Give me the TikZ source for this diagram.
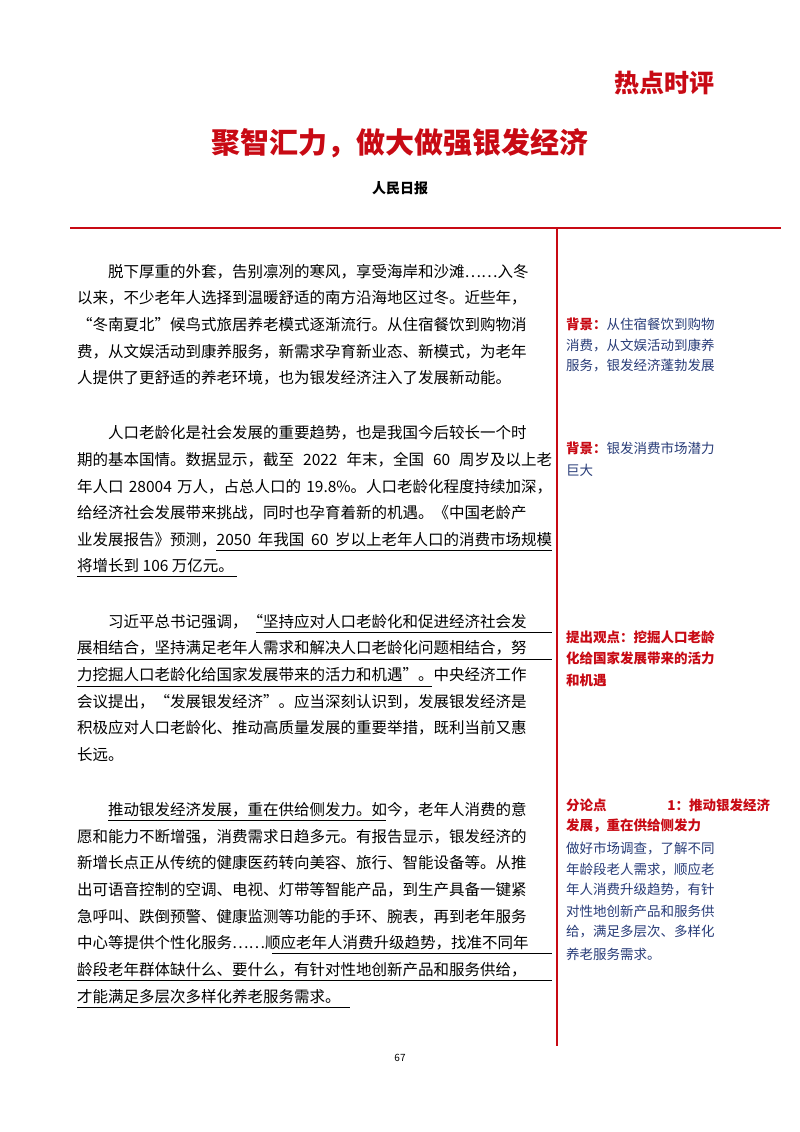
\documentclass[tikz,border=0pt]{standalone}
\usepackage{fontspec}
\setmainfont{Noto Sans CJK SC}
\definecolor{dred}{RGB}{200,10,20}
\definecolor{nblue}{RGB}{40,60,120}
\XeTeXlinebreaklocale "zh"
\newcommand\skipmain{\XeTeXlinebreakskip=3.5pt plus 4pt\relax}
\newcommand\skipside{\XeTeXlinebreakskip=4.5pt plus 4pt\relax}
\newcommand\skiphot{\XeTeXlinebreakskip=4pt\relax}
\newcommand\jl[5]{\node[mainl] (#1) at (#2,#3) {\makebox[#4pt][s]{#5}};}
\newcommand\nl[4]{\node[mainl] (#1) at (#2,#3) {#4};}
\newcommand\sj[4]{\node[sidel] (#1) at (566,#2) {\makebox[204pt][s]{\color{#3}#4}};}
\begin{document}
\begin{tikzpicture}[x=1pt,y=-1pt,
 mainl/.style={anchor=west,inner sep=0pt,font=\fontsize{15.5}{18}\selectfont\skipmain},
 sidel/.style={anchor=west,inner sep=0pt,font=\fontsize{13.5}{16}\selectfont\skipside},
 sideb/.style={sidel,font=\fontsize{13.5}{16}\selectfont\skipside\bfseries},
 rline/.style={draw=dred,line width=2.5pt},
 ul/.style={line width=0.7pt}]
\fill[white] (0,0) rectangle (800,1132);
\node[font=\bfseries\fontsize{25}{28}\selectfont\skiphot,text=dred] (hot) at (664,83) {热点时评};
\node[font=\bfseries\fontsize{29}{32}\selectfont,text=dred] (title) at (400,143) {聚智汇力，做大做强银发经济};
\node[font=\bfseries\fontsize{14}{16}\selectfont] (src) at (400,188) {人民日报};
\coordinate (h1) at (70,228); \coordinate (h2) at (781,228);
\coordinate (v1) at (557,228); \coordinate (v2) at (557,1046);
\draw[rline] (h1) -- (h2);
\draw[rline] (v1) -- (v2);
% para 1
\jl{a1}{108}{272}{444}{脱下厚重的外套，告别凛冽的寒风，享受海岸和沙滩……入冬}
\jl{a2}{77}{298}{475}{以来，不少老年人选择到温暖舒适的南方沿海地区过冬。近些年，}
\jl{a3}{77}{325}{475}{“冬南夏北”候鸟式旅居养老模式逐渐流行。从住宿餐饮到购物消}
\jl{a4}{77}{352}{475}{费，从文娱活动到康养服务，新需求孕育新业态、新模式，为老年}
\nl{a5}{77}{378}{人提供了更舒适的养老环境，也为银发经济注入了发展新动能。}
% para 2
\jl{b1}{108}{433}{444}{人口老龄化是社会发展的重要趋势，也是我国今后较长一个时}
\jl{b2}{77}{460}{475}{期的基本国情。数据显示，截至 2022 年末，全国 60 周岁及以上老}
\jl{b3}{77}{487}{475}{年人口 28004 万人，占总人口的 19.8\%。人口老龄化程度持续加深，}
\jl{b4}{77}{513}{475}{给经济社会发展带来挑战，同时也孕育着新的机遇。《中国老龄产}
\jl{b5}{77}{540}{475}{业发展报告》预测，2050 年我国 60 岁以上老年人口的消费市场规模}
\nl{b6}{77}{566}{将增长到 106 万亿元。}
\coordinate (u1a) at (216,550); \coordinate (u1b) at (552,550);
\coordinate (u2a) at (77,576); \coordinate (u2b) at (237,576);
\draw[ul] (u1a) -- (u1b); \draw[ul] (u2a) -- (u2b);
% para 3
\jl{c1}{108}{622}{444}{习近平总书记强调，“坚持应对人口老龄化和促进经济社会发}
\jl{c2}{77}{648}{475}{展相结合，坚持满足老年人需求和解决人口老龄化问题相结合，努}
\jl{c3}{77}{675}{475}{力挖掘人口老龄化给国家发展带来的活力和机遇”。中央经济工作}
\jl{c4}{77}{702}{475}{会议提出，“发展银发经济”。应当深刻认识到，发展银发经济是}
\jl{c5}{77}{728}{475}{积极应对人口老龄化、推动高质量发展的重要举措，既利当前又惠}
\nl{c6}{77}{755}{长远。}
\coordinate (u3a) at (256,632); \coordinate (u3b) at (552,632);
\coordinate (u4a) at (77,659); \coordinate (u4b) at (552,659);
\coordinate (u5a) at (77,686); \coordinate (u5b) at (432,686);
\draw[ul] (u3a) -- (u3b); \draw[ul] (u4a) -- (u4b); \draw[ul] (u5a) -- (u5b);
% para 4
\jl{d1}{108}{810}{444}{推动银发经济发展，重在供给侧发力。如今，老年人消费的意}
\jl{d2}{77}{837}{475}{愿和能力不断增强，消费需求日趋多元。有报告显示，银发经济的}
\jl{d3}{77}{863}{475}{新增长点正从传统的健康医药转向美容、旅行、智能设备等。从推}
\jl{d4}{77}{890}{475}{出可语音控制的空调、电视、灯带等智能产品，到生产具备一键紧}
\jl{d5}{77}{917}{475}{急呼叫、跌倒预警、健康监测等功能的手环、腕表，再到老年服务}
\jl{d6}{77}{943}{475}{中心等提供个性化服务……顺应老年人消费升级趋势，找准不同年}
\jl{d7}{77}{970}{475}{龄段老年群体缺什么、要什么，有针对性地创新产品和服务供给，}
\nl{d8}{77}{997}{才能满足多层次多样化养老服务需求。}
\coordinate (u6a) at (108,820); \coordinate (u6b) at (386,820);
\coordinate (u7a) at (272,953); \coordinate (u7b) at (552,953);
\coordinate (u8a) at (77,980); \coordinate (u8b) at (552,980);
\coordinate (u9a) at (77,1007); \coordinate (u9b) at (350,1007);
\draw[ul] (u6a) -- (u6b); \draw[ul] (u7a) -- (u7b); \draw[ul] (u8a) -- (u8b); \draw[ul] (u9a) -- (u9b);
% side notes
\sj{s1}{324}{nblue}{{\color{dred}\bfseries 背景：}从住宿餐饮到购物}
\sj{s2}{345}{nblue}{消费，从文娱活动到康养}
\sj{s3}{366}{nblue}{服务，银发经济蓬勃发展}
\sj{s4}{448}{nblue}{{\color{dred}\bfseries 背景：}银发消费市场潜力}
\node[sidel,text=nblue] (s5) at (566,470) {巨大};
\sj{s6}{637}{dred}{\bfseries 提出观点：挖掘人口老龄}
\sj{s7}{658}{dred}{\bfseries 化给国家发展带来的活力}
\node[sideb,text=dred] (s8) at (566,680) {和机遇};
\sj{s9}{805}{dred}{\bfseries 分论点 1：推动银发经济}
\node[sideb,text=dred] (s10) at (566,826) {发展，重在供给侧发力};
\sj{s11}{848}{nblue}{做好市场调查，了解不同}
\sj{s12}{869}{nblue}{年龄段老人需求，顺应老}
\sj{s13}{890}{nblue}{年人消费升级趋势，有针}
\sj{s14}{911}{nblue}{对性地创新产品和服务供}
\sj{s15}{932}{nblue}{给，满足多层次、多样化}
\node[sidel,text=nblue] (s16) at (566,954) {养老服务需求。};
\node[font=\fontsize{10}{12}\selectfont] (pg) at (400,1058) {67};
\end{tikzpicture}
\end{document}
